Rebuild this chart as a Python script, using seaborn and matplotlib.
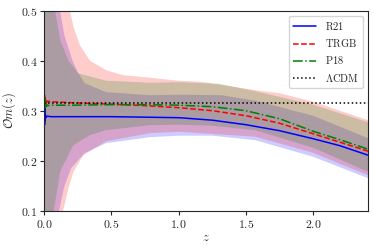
import matplotlib
matplotlib.use("Agg")
import matplotlib.pyplot as plt
import seaborn as sns
import numpy as np

# valores
z_r21 = [0.0, 0.002, 0.004, 0.006, 0.008, 0.012, 0.02, 0.05, 0.2, 0.5, 0.75, 1.0, 1.25, 1.5, 1.75, 2.0, 2.2, 2.41]
om_r21 = [0.300, 0.272, 0.305, 0.280, 0.292, 0.286, 0.289, 0.288, 0.288, 0.288, 0.287, 0.286, 0.281, 0.272, 0.260, 0.244, 0.230, 0.211]

z_trgb = [0.0, 0.003, 0.006, 0.009, 0.012, 0.016, 0.02, 0.05, 0.2, 0.5, 0.75, 1.0, 1.25, 1.5, 1.75, 2.0, 2.2, 2.41]
om_trgb = [0.330, 0.316, 0.326, 0.314, 0.322, 0.316, 0.319, 0.318, 0.316, 0.313, 0.310, 0.306, 0.300, 0.290, 0.275, 0.254, 0.237, 0.219]

z_p18 = [0.0, 0.003, 0.006, 0.009, 0.012, 0.016, 0.02, 0.05, 0.2, 0.5, 0.75, 1.0, 1.25, 1.5, 1.75, 2.0, 2.2, 2.41]
om_p18 = [0.305, 0.330, 0.306, 0.318, 0.308, 0.313, 0.310, 0.311, 0.311, 0.312, 0.312, 0.311, 0.308, 0.300, 0.284, 0.259, 0.242, 0.223]

om_lcdm = 0.315

# bandas (limite superior e inferior)
zb_r21 = [0.0, 0.05, 0.1, 0.117, 0.15, 0.21, 0.25, 0.3, 0.46, 0.786, 1.0, 1.32, 1.57, 2.0, 2.41]
up_r21 = [2.0, 0.9, 0.56, 0.5, 0.45, 0.40, 0.377, 0.355, 0.337, 0.331, 0.332, 0.331, 0.320, 0.290, 0.245]
zl_r21 = [0.0, 0.08, 0.11, 0.15, 0.2, 0.3, 0.46, 0.786, 1.0, 1.25, 1.57, 2.0, 2.41]
lo_r21 = [-1.0, 0.0, 0.1, 0.15, 0.185, 0.215, 0.235, 0.247, 0.250, 0.250, 0.241, 0.208, 0.165]

zb_trgb = [0.0, 0.08, 0.15, 0.19, 0.22, 0.265, 0.34, 0.46, 0.585, 0.786, 1.0, 1.16, 1.57, 1.75, 2.0, 2.41]
up_trgb = [3.0, 1.0, 0.6, 0.5, 0.465, 0.431, 0.400, 0.381, 0.371, 0.366, 0.360, 0.358, 0.341, 0.335, 0.318, 0.281]
zl_trgb = [0.0, 0.1, 0.14, 0.18, 0.216, 0.29, 0.46, 0.786, 1.0, 1.57, 2.0, 2.41]
lo_trgb = [-1.0, 0.0, 0.1, 0.145, 0.177, 0.211, 0.239, 0.255, 0.258, 0.248, 0.216, 0.171]

zb_p18 = [0.0, 0.04, 0.08, 0.12, 0.18, 0.25, 0.46, 0.786, 1.0, 1.3, 1.57, 2.0, 2.41]
up_p18 = [2.0, 0.8, 0.5, 0.44, 0.40, 0.375, 0.360, 0.356, 0.357, 0.354, 0.339, 0.312, 0.277]
zl_p18 = [0.0, 0.04, 0.07, 0.12, 0.216, 0.34, 0.46, 0.786, 1.0, 1.245, 1.57, 2.0, 2.41]
lo_p18 = [-1.0, -0.1, 0.1, 0.18, 0.231, 0.251, 0.261, 0.271, 0.272, 0.270, 0.261, 0.226, 0.178]

sns.set_style("ticks")
plt.rcParams['font.family'] = ['DejaVu Serif']
plt.rcParams['mathtext.fontset'] = 'cm'
plt.rcParams['xtick.direction'] = 'out'
plt.rcParams['ytick.direction'] = 'out'

fig = plt.figure(figsize=(3.74, 2.49), dpi=100)
ax = fig.add_axes([0.1185, 0.154, 0.8655, 0.803])

zg = np.linspace(0, 2.41, 600)
bandas = [
    (zb_r21, up_r21, zl_r21, lo_r21, 'blue'),
    (zb_trgb, up_trgb, zl_trgb, lo_trgb, 'red'),
    (zb_p18, up_p18, zl_p18, lo_p18, 'green'),
]
for zu, up, zl, lo, col in bandas:
    ax.fill_between(zg, np.interp(zg, zl, lo), np.interp(zg, zu, up),
                    color=col, alpha=0.2, linewidth=0)

sns.lineplot(x=z_r21, y=om_r21, ax=ax, color='blue', linewidth=1.1, label=r'$\mathrm{R21}$', sort=False)
sns.lineplot(x=z_trgb, y=om_trgb, ax=ax, color='red', linewidth=1.1, linestyle='--', label=r'$\mathrm{TRGB}$', sort=False)
sns.lineplot(x=z_p18, y=om_p18, ax=ax, color='green', linewidth=1.1, linestyle='-.', label=r'$\mathrm{P18}$', sort=False)
ax.axhline(om_lcdm, color='black', linestyle=':', linewidth=1.1, label=r'$\Lambda\mathrm{CDM}$')

ax.set_xlim(0, 2.41)
ax.set_ylim(0.1, 0.5)
ax.set_xticks([0.0, 0.5, 1.0, 1.5, 2.0])
ax.set_yticks([0.1, 0.2, 0.3, 0.4, 0.5])
ax.set_xticklabels([f'${v:.1f}$' for v in [0.0, 0.5, 1.0, 1.5, 2.0]], fontsize=8.5)
ax.set_yticklabels([f'${v:.1f}$' for v in [0.1, 0.2, 0.3, 0.4, 0.5]], fontsize=8.5)
ax.tick_params(length=3, width=0.8, pad=2)
ax.set_xlabel(r'$z$', fontsize=9, labelpad=0)
ax.set_ylabel(r'$\mathcal{O}m(z)$', fontsize=9, labelpad=2)
ax.legend(loc='upper right', fontsize=7.5, handlelength=2.2, borderaxespad=0.5)

fig.savefig('out.png', dpi=100)
